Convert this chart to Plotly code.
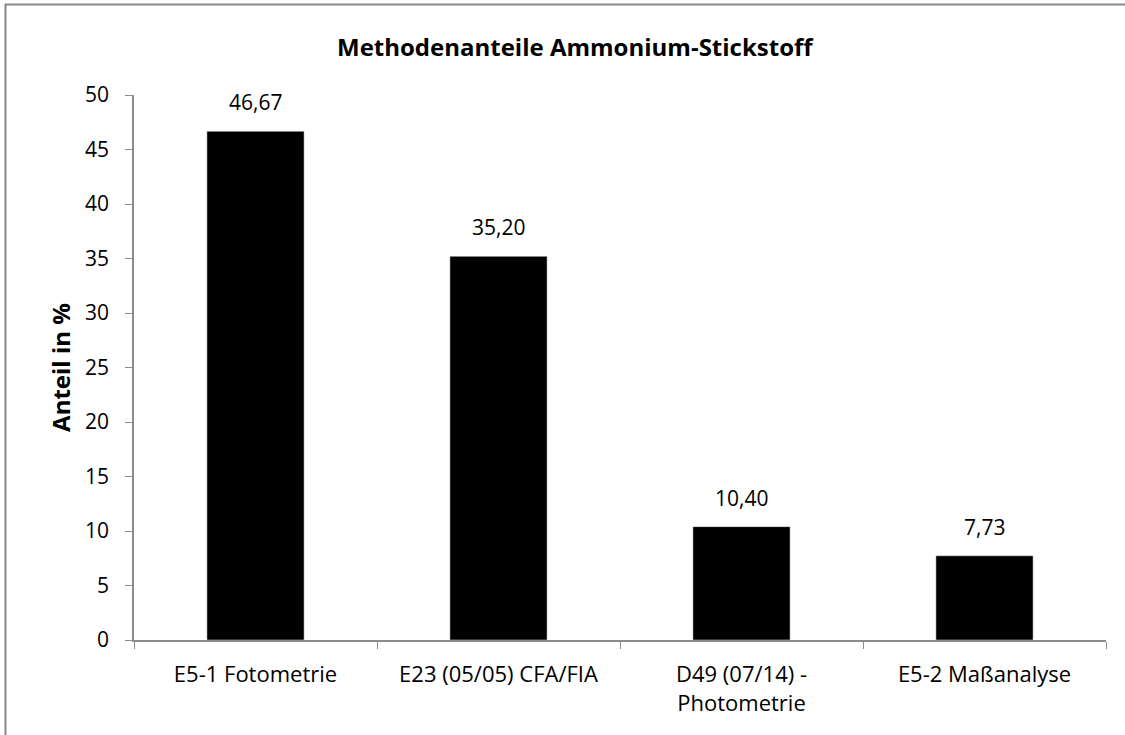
import plotly.graph_objects as go

categories = ["E5-1 Fotometrie", "E23 (05/05) CFA/FIA", "D49 (07/14) -<br>Photometrie", "E5-2 Maßanalyse"]
values = [46.67, 35.20, 10.40, 7.73]
value_labels = ["46,67", "35,20", "10,40", "7,73"]
y_ticks = [0, 5, 10, 15, 20, 25, 30, 35, 40, 45, 50]

FONT = "Open Sans"
W, H = 1125, 735
L, R, T, B = 134, 19, 95, 95
pw, ph = W - L - R, H - T - B

fig = go.Figure(go.Bar(
    x=categories, y=values, marker_color="black", width=0.4,
))

annotations = [dict(
    text="<b>Methodenanteile Ammonium-Stickstoff</b>",
    xref="paper", yref="paper", x=(575 - L) / pw, y=1 + (95 - 46) / ph,
    xanchor="center", yanchor="middle", showarrow=False,
    font=dict(family=FONT, size=24, color="black"))]
for c, v, lab in zip(categories, values, value_labels):
    annotations.append(dict(
        x=c, y=v, xref="x", yref="y", text=lab, showarrow=False,
        yanchor="middle", yshift=29,
        font=dict(family=FONT, size=21, color="black")))

fig.update_layout(
    width=W, height=H, margin=dict(l=L, r=R, t=T, b=B),
    paper_bgcolor="white", plot_bgcolor="white",
    separators=",.", showlegend=False, bargap=0.6,
    font=dict(family=FONT, size=21, color="black"),
    annotations=annotations,
    shapes=[dict(type="rect", xref="paper", yref="paper",
                 x0=(5.5 - L) / pw, x1=1.1, y0=-0.3, y1=1 + (T - 4.5) / ph,
                 line=dict(color="#878787", width=2), layer="below")],
)
fig.update_xaxes(
    showline=True, linecolor="#8c8c8c", linewidth=1.5,
    ticks="outside", tickson="boundaries", ticklen=7, tickcolor="#8c8c8c",
    tickfont=dict(family=FONT, size=22), showgrid=False, ticklabelstandoff=14,
)
fig.update_yaxes(
    range=[0, 50], tickvals=y_ticks, showline=True, linecolor="#8c8c8c", linewidth=1.5,
    ticks="outside", ticklen=7, tickcolor="#8c8c8c", showgrid=False, zeroline=False,
    tickfont=dict(family=FONT, size=21), ticklabelstandoff=12,
    title=dict(text="<b>Anteil in %</b>", font=dict(family=FONT, size=24), standoff=8),
)

fig.write_html("out.html", config={"displayModeBar": False},
               post_script="document.body.style.margin='0';")
